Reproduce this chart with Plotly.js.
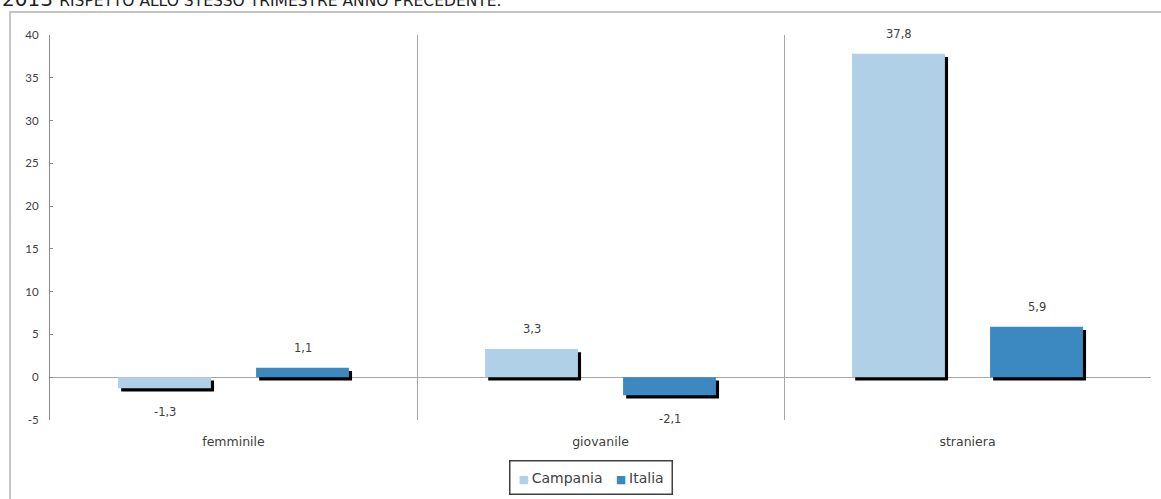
<!DOCTYPE html>
<html>
<head>
<meta charset="utf-8">
<script src="https://cdn.plot.ly/plotly-3.0.1.min.js"></script>
<style>html,body{margin:0;padding:0;background:#fff;}#chart{width:1161px;height:499px;}</style>
</head>
<body>
<div id="chart"></div>
<script>
const categories = ["femminile", "giovanile", "straniera"];
const campania = [-1.3, 3.3, 37.8];
const italia = [1.1, -2.1, 5.9];
const seriesNames = ["Campania", "Italia"];
const yTicks = [-5, 0, 5, 10, 15, 20, 25, 30, 35, 40];
const titleText = "2013 RISPETTO ALLO STESSO TRIMESTRE ANNO PRECEDENTE.";

const colCampania = "#B0D0E8";
const colItalia = "#3C89C1";
const font = "'DejaVu Sans', sans-serif";
const barW = 0.253;
const offC = -0.188 - barW / 2;
const offI = 0.188 - barW / 2;
const shX = 0.0085;   // shadow shift in category units (~3px)
const shY = -0.38;    // shadow shift in value units (~3px)

function shadow(vals, off) {
  return {
    type: "bar", x: categories, y: vals.map(v => v), base: shY,
    offset: off + shX, width: barW,
    marker: {color: "#000", line: {width: 0}},
    showlegend: false, hoverinfo: "skip"
  };
}
function main(vals, off, name, col) {
  return {
    type: "bar", x: categories, y: vals, name: name,
    offset: off, width: barW,
    marker: {color: col, line: {width: 0}}, showlegend: false
  };
}

const traces = [
  shadow(campania, offC), shadow(italia, offI),
  main(campania, offC, seriesNames[0], colCampania),
  main(italia, offI, seriesNames[1], colItalia)
];

const annotations = [];
[[campania, -0.188], [italia, 0.188]].forEach(([vals, dx]) => {
  vals.forEach((v, i) => {
    annotations.push({
      x: i + dx, y: v, xref: "x", yref: "y",
      text: v.toFixed(1).replace(".", ","),
      showarrow: false,
      yanchor: v >= 0 ? "bottom" : "top",
      yshift: v >= 0 ? 11 : -15,
      font: {family: font, size: 11.5, color: "#404040"}
    });
  });
});
// chart heading (cut by the top edge as in the reference)
const tParts = titleText.split(" ");
annotations.push({
  xref: "paper", yref: "paper", x: -0.0455, y: 1.058, xanchor: "left", yanchor: "bottom",
  showarrow: false,
  text: "<span style='font-size:20px'>" + tParts[0] + " </span>" + tParts.slice(1).join(" "),
  font: {family: font, size: 15.5, color: "#222"}
});
// legend box
const sq = (c) => "<span style='color:" + c + ";font-size:11px'>■</span>";
annotations.push({
  xref: "paper", yref: "paper", x: 0.4915, y: -0.1039, xanchor: "center", yanchor: "top",
  showarrow: false,
  text: sq(colCampania) + "\u2009" + seriesNames[0] + "\u00a0\u00a0\u00a0" + sq(colItalia) + "\u2009" + seriesNames[1],
  font: {family: font, size: 14, color: "#404040"},
  bordercolor: "#404040", borderwidth: 1.5, borderpad: 8, bgcolor: "#fff"
});

const layout = {
  width: 1161, height: 499,
  margin: {l: 50, r: 10, t: 35, b: 79},
  paper_bgcolor: "#fff", plot_bgcolor: "#fff",
  barmode: "overlay",
  separators: ",.",
  font: {family: font, size: 11, color: "#404040"},
  xaxis: {
    type: "category", tickson: "boundaries", showgrid: true, gridcolor: "#a6a6a6", gridwidth: 1,
    ticks: "", showline: false, zeroline: false, tickfont: {size: 12.5, color: "#404040"},
    range: [-0.5, 2.5], fixedrange: true, ticklabelstandoff: 12
  },
  yaxis: {
    range: [-5, 40], tickvals: yTicks, ticktext: yTicks.map(String),
    showgrid: false, zeroline: true, zerolinecolor: "#a6a6a6", zerolinewidth: 1,
    showline: true, linecolor: "#8c8c8c", linewidth: 1, ticks: "inside", ticklen: 3, tickcolor: "#8c8c8c",
    tickfont: {family: "Lato, sans-serif", size: 11.5, color: "#404040"}, ticklabelstandoff: 8
  },
  shapes: [{
    type: "rect", xref: "paper", yref: "paper", x0: -0.0363, x1: 1.05, y0: -0.3, y1: 1.0597,
    line: {color: "#c4c4c4", width: 2}, fillcolor: "rgba(0,0,0,0)", layer: "below"
  }],
  annotations: annotations,
  showlegend: false
};

Plotly.newPlot("chart", traces, layout, {staticPlot: true, displayModeBar: false});
</script>
</body>
</html>
